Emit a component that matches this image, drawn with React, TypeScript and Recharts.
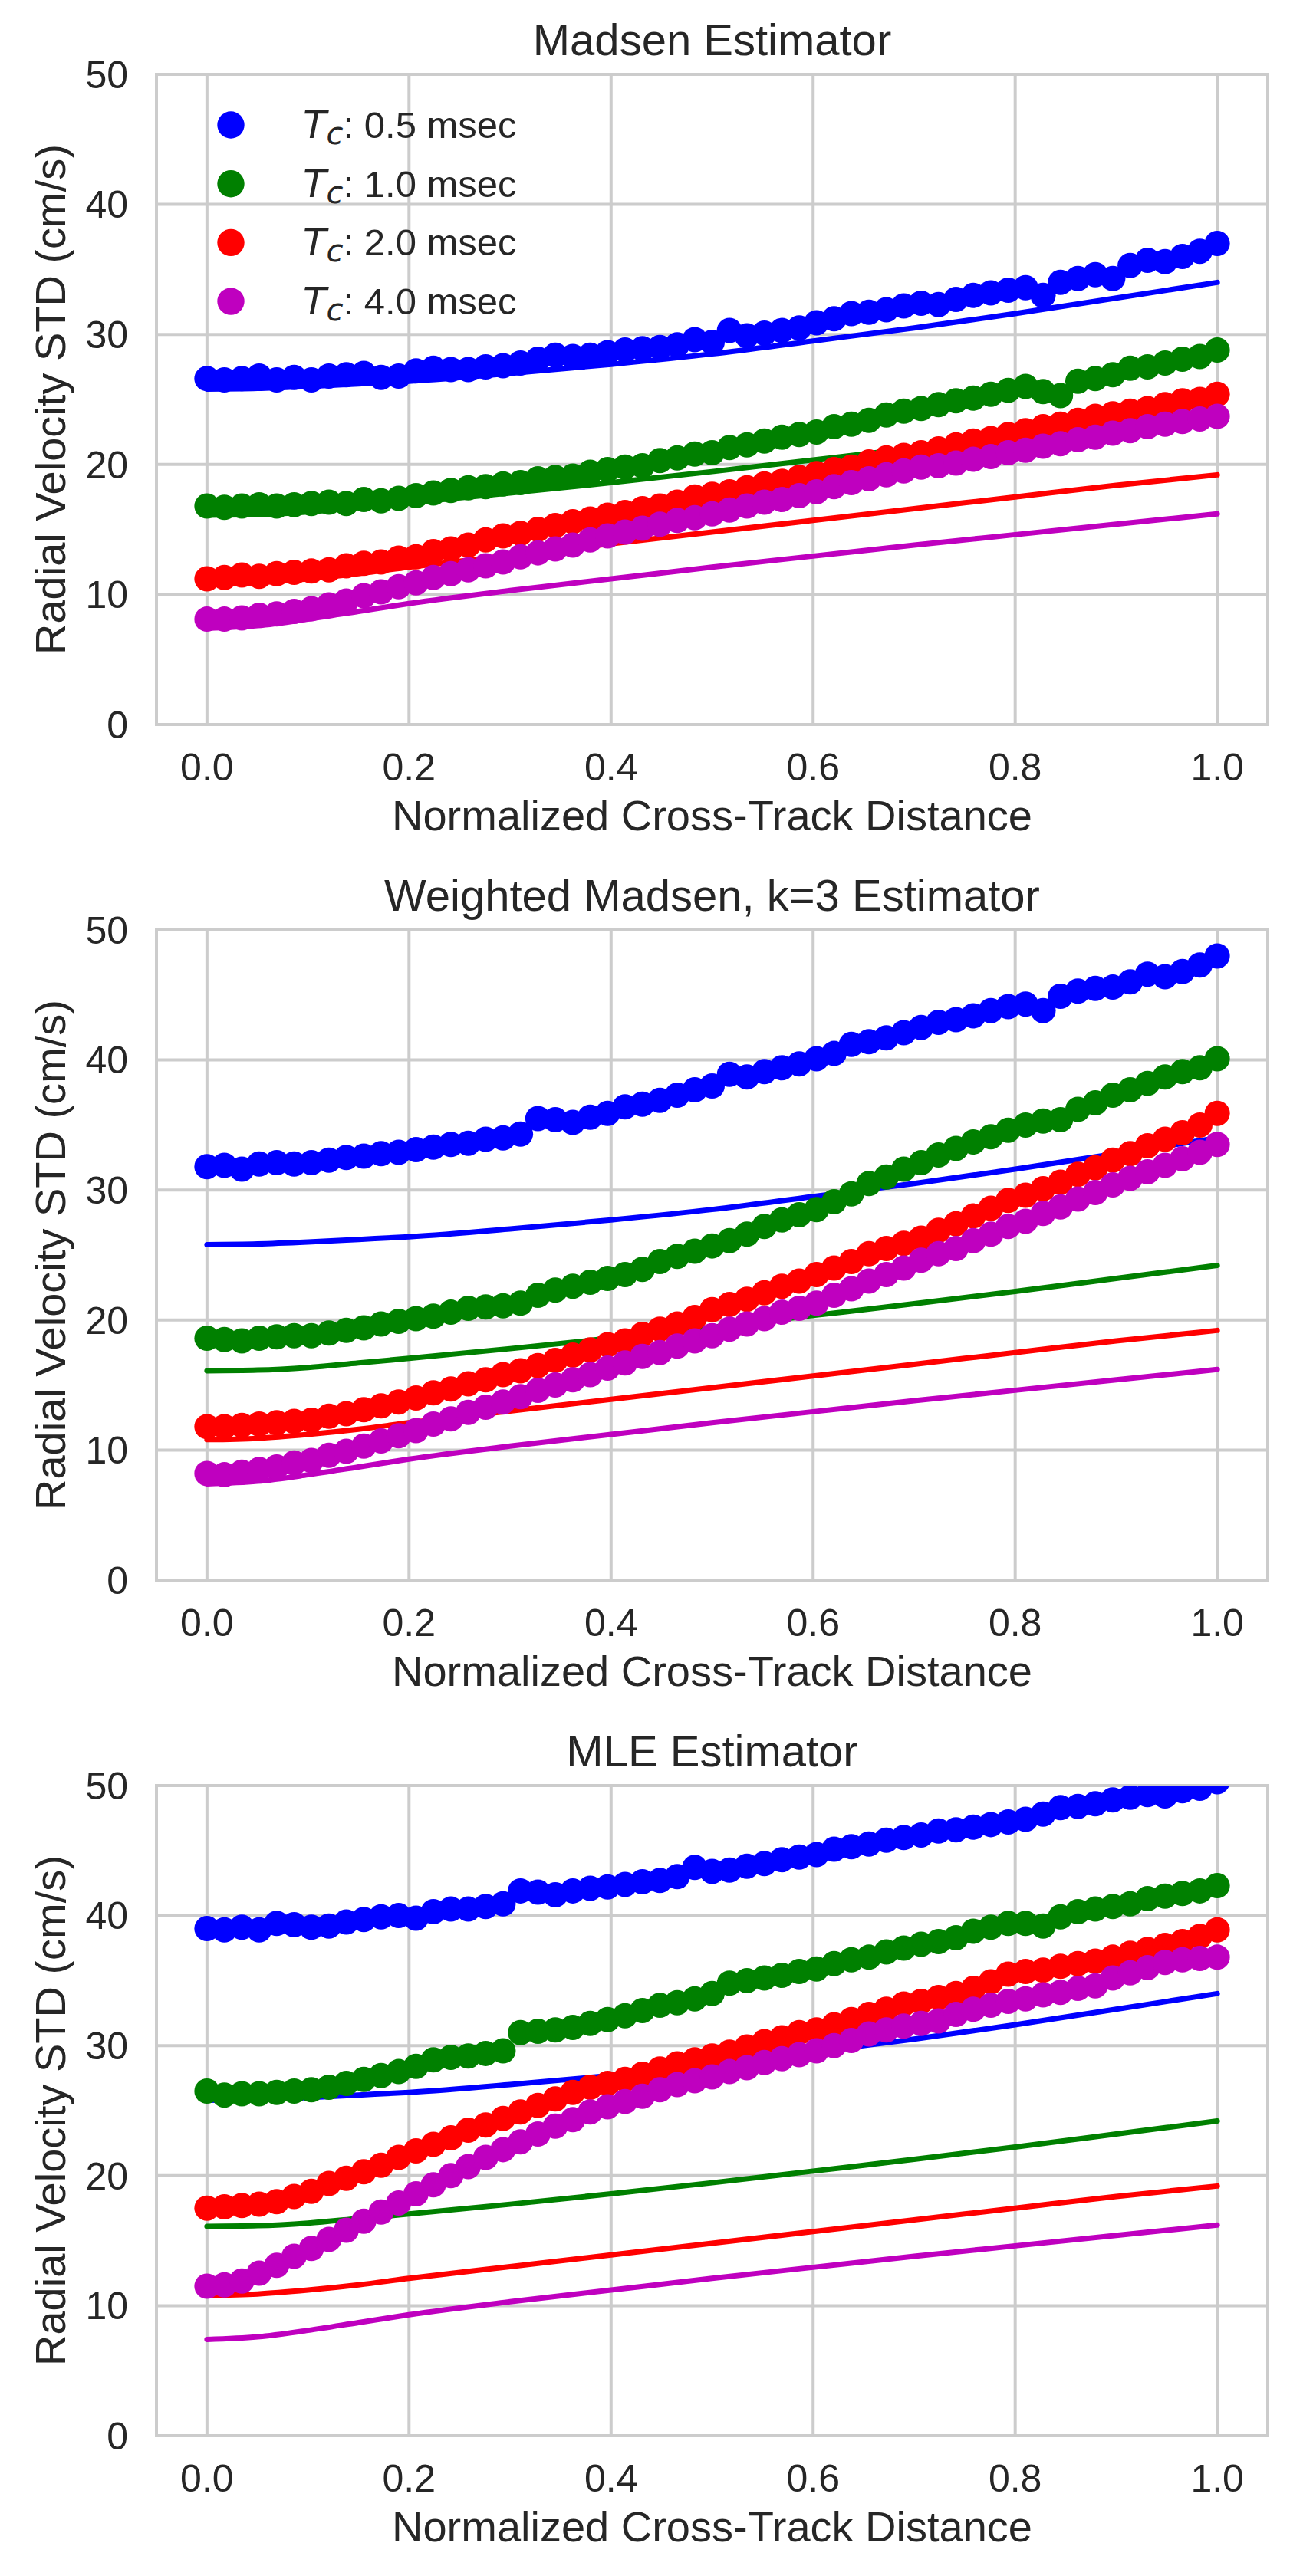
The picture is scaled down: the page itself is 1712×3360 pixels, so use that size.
import {
  ComposedChart,
  Line,
  Scatter,
  XAxis,
  YAxis,
  CartesianGrid,
  ReferenceArea,
  Legend,
} from "recharts";

// x positions of the simulated points (normalized cross-track distance)
const pointX = [
  0, 0.0172, 0.0345, 0.0517, 0.069, 0.0862, 0.1034, 0.1207, 0.1379, 0.1552,
  0.1724, 0.1897, 0.2069, 0.2241, 0.2414, 0.2586, 0.2759, 0.2931, 0.3103, 0.3276,
  0.3448, 0.3621, 0.3793, 0.3966, 0.4138, 0.431, 0.4483, 0.4655, 0.4828, 0.5,
  0.5172, 0.5345, 0.5517, 0.569, 0.5862, 0.6034, 0.6207, 0.6379, 0.6552, 0.6724,
  0.6897, 0.7069, 0.7241, 0.7414, 0.7586, 0.7759, 0.7931, 0.8103, 0.8276, 0.8448,
  0.8621, 0.8793, 0.8966, 0.9138, 0.931, 0.9483, 0.9655, 0.9828, 1.0,
];

// Madsen estimator
const madsenBlue = [
  26.6, 26.5, 26.6, 26.8, 26.5, 26.7, 26.5, 26.8, 26.9, 27.0,
  26.7, 26.8, 27.2, 27.4, 27.3, 27.3, 27.5, 27.6, 27.8, 28.1,
  28.4, 28.3, 28.4, 28.6, 28.8, 28.9, 29.0, 29.2, 29.6, 29.4,
  30.3, 29.9, 30.1, 30.3, 30.5, 30.9, 31.2, 31.6, 31.7, 31.9,
  32.2, 32.4, 32.3, 32.7, 33.0, 33.2, 33.4, 33.6, 33.0, 34.0,
  34.3, 34.6, 34.3, 35.3, 35.7, 35.6, 36.0, 36.4, 37.0,
];
const madsenGreen = [
  16.8, 16.7, 16.8, 16.9, 16.8, 16.9, 17.0, 17.1, 17.0, 17.3,
  17.2, 17.4, 17.6, 17.8, 18.0, 18.2, 18.3, 18.5, 18.6, 18.9,
  19.0, 19.1, 19.4, 19.6, 19.8, 19.9, 20.3, 20.5, 20.8, 20.9,
  21.3, 21.5, 21.8, 22.1, 22.3, 22.5, 22.9, 23.1, 23.4, 23.8,
  24.1, 24.3, 24.6, 24.9, 25.1, 25.4, 25.7, 26.0, 25.6, 25.3,
  26.4, 26.6, 26.9, 27.4, 27.5, 27.8, 28.1, 28.3, 28.8,
];
const madsenRed = [
  11.2, 11.3, 11.5, 11.4, 11.6, 11.7, 11.8, 11.9, 12.2, 12.4,
  12.5, 12.8, 12.9, 13.3, 13.5, 13.8, 14.2, 14.5, 14.7, 15.0,
  15.3, 15.6, 15.8, 16.1, 16.3, 16.6, 16.8, 17.1, 17.5, 17.7,
  17.9, 18.2, 18.5, 18.7, 19.0, 19.3, 19.6, 19.8, 20.2, 20.5,
  20.7, 20.9, 21.2, 21.5, 21.8, 22.0, 22.3, 22.6, 22.9, 23.1,
  23.4, 23.7, 23.9, 24.1, 24.3, 24.6, 24.9, 25.0, 25.4,
];
const madsenMagenta = [
  8.1, 8.1, 8.2, 8.4, 8.5, 8.7, 8.9, 9.2, 9.5, 9.9,
  10.2, 10.6, 10.9, 11.3, 11.6, 11.9, 12.2, 12.5, 12.9, 13.2,
  13.5, 13.8, 14.2, 14.5, 14.8, 15.1, 15.4, 15.7, 15.9, 16.2,
  16.5, 16.8, 17.1, 17.3, 17.6, 17.9, 18.3, 18.6, 18.9, 19.2,
  19.5, 19.8, 19.9, 20.1, 20.4, 20.6, 20.9, 21.1, 21.4, 21.6,
  21.9, 22.1, 22.4, 22.6, 22.9, 23.1, 23.3, 23.5, 23.7,
];

// Weighted Madsen, k=3
const weightedBlue = [
  31.8, 31.9, 31.6, 32.0, 32.1, 32.0, 32.1, 32.3, 32.5, 32.6,
  32.8, 32.9, 33.1, 33.3, 33.5, 33.6, 33.9, 34.0, 34.3, 35.5,
  35.4, 35.2, 35.6, 35.9, 36.4, 36.6, 36.9, 37.3, 37.7, 38.0,
  38.9, 38.7, 39.1, 39.4, 39.7, 40.1, 40.5, 41.2, 41.4, 41.7,
  42.1, 42.5, 42.9, 43.1, 43.4, 43.8, 44.1, 44.3, 43.8, 44.9,
  45.3, 45.5, 45.6, 46.0, 46.6, 46.4, 46.8, 47.3, 48.0,
];
const weightedGreen = [
  18.6, 18.5, 18.4, 18.6, 18.7, 18.8, 18.8, 19.0, 19.2, 19.4,
  19.7, 19.9, 20.1, 20.3, 20.6, 20.9, 21.0, 21.1, 21.3, 21.9,
  22.3, 22.6, 22.9, 23.2, 23.5, 23.9, 24.5, 24.9, 25.3, 25.7,
  26.1, 26.6, 27.2, 27.7, 28.1, 28.5, 29.1, 29.7, 30.5, 31.0,
  31.6, 32.1, 32.7, 33.2, 33.7, 34.1, 34.6, 35.0, 35.3, 35.4,
  36.2, 36.7, 37.3, 37.7, 38.2, 38.7, 39.1, 39.4, 40.1,
];
const weightedRed = [
  11.8, 11.8, 11.9, 12.0, 12.1, 12.2, 12.3, 12.6, 12.8, 13.1,
  13.4, 13.7, 14.0, 14.4, 14.7, 15.1, 15.4, 15.8, 16.1, 16.5,
  16.9, 17.3, 17.7, 18.1, 18.4, 18.9, 19.3, 19.7, 20.2, 20.8,
  21.2, 21.6, 22.1, 22.6, 23.0, 23.5, 24.0, 24.5, 25.1, 25.5,
  25.9, 26.3, 26.9, 27.4, 28.0, 28.6, 29.2, 29.6, 30.1, 30.6,
  31.2, 31.7, 32.3, 32.8, 33.4, 33.9, 34.4, 35.0, 35.9,
];
const weightedMagenta = [
  8.2, 8.1, 8.3, 8.5, 8.7, 9.0, 9.2, 9.6, 9.9, 10.3,
  10.7, 11.1, 11.5, 12.0, 12.4, 12.9, 13.3, 13.7, 14.1, 14.6,
  15.0, 15.4, 15.8, 16.3, 16.7, 17.2, 17.5, 18.0, 18.4, 18.8,
  19.3, 19.7, 20.1, 20.6, 20.9, 21.3, 21.9, 22.4, 23.0, 23.5,
  24.0, 24.6, 25.1, 25.5, 26.1, 26.6, 27.2, 27.6, 28.2, 28.7,
  29.3, 29.8, 30.4, 30.9, 31.4, 31.9, 32.4, 32.9, 33.5,
];

// MLE estimator
const mleBlue = [
  39.0, 38.9, 39.1, 38.9, 39.4, 39.3, 39.1, 39.2, 39.5, 39.7,
  39.9, 40.0, 39.8, 40.3, 40.5, 40.5, 40.7, 40.9, 41.9, 41.8,
  41.6, 41.9, 42.1, 42.2, 42.4, 42.6, 42.7, 43.0, 43.7, 43.4,
  43.5, 43.8, 44.0, 44.3, 44.5, 44.7, 45.1, 45.3, 45.5, 45.8,
  46.0, 46.2, 46.5, 46.6, 46.8, 47.0, 47.2, 47.4, 47.8, 48.3,
  48.4, 48.6, 48.9, 49.1, 49.3, 49.2, 49.6, 49.8, 50.3,
];
const mleGreen = [
  26.5, 26.2, 26.3, 26.3, 26.4, 26.5, 26.6, 26.8, 27.1, 27.4,
  27.7, 28.0, 28.4, 28.9, 29.1, 29.2, 29.4, 29.6, 31.0, 31.1,
  31.2, 31.4, 31.7, 32.0, 32.3, 32.7, 33.1, 33.3, 33.6, 34.0,
  34.8, 35.0, 35.2, 35.4, 35.7, 35.9, 36.3, 36.6, 36.8, 37.2,
  37.5, 37.8, 38.0, 38.3, 38.8, 39.1, 39.4, 39.4, 39.2, 39.9,
  40.3, 40.5, 40.7, 40.9, 41.3, 41.5, 41.7, 41.9, 42.3,
];
const mleRed = [
  17.5, 17.6, 17.7, 17.8, 18.0, 18.4, 18.8, 19.4, 19.8, 20.3,
  20.8, 21.4, 21.9, 22.4, 22.9, 23.5, 23.9, 24.4, 24.9, 25.4,
  25.9, 26.4, 26.8, 27.1, 27.4, 27.8, 28.2, 28.6, 28.9, 29.2,
  29.5, 29.9, 30.3, 30.6, 31.0, 31.2, 31.6, 32.0, 32.4, 32.8,
  33.2, 33.4, 33.7, 34.0, 34.4, 34.9, 35.5, 35.7, 35.8, 36.1,
  36.3, 36.5, 36.8, 37.1, 37.4, 37.7, 38.0, 38.4, 38.9,
];
const mleMagenta = [
  11.5, 11.6, 11.9, 12.5, 13.1, 13.8, 14.4, 15.1, 15.8, 16.5,
  17.2, 17.9, 18.6, 19.3, 20.0, 20.7, 21.4, 22.0, 22.6, 23.2,
  23.8, 24.3, 24.9, 25.3, 25.7, 26.1, 26.6, 27.0, 27.3, 27.6,
  28.0, 28.3, 28.7, 29.0, 29.3, 29.6, 30.0, 30.4, 30.9, 31.2,
  31.5, 31.7, 31.9, 32.4, 32.8, 33.1, 33.4, 33.6, 33.9, 34.1,
  34.4, 34.6, 35.2, 35.6, 36.0, 36.4, 36.6, 36.7, 36.8,
];

// theoretical curves (same in every panel)
const curveX = [0, 0.05, 0.1, 0.15, 0.2, 0.3, 0.4, 0.5, 0.6, 0.7, 0.8, 0.9, 1.0];
const curveBlue = [25.8, 25.85, 26.0, 26.2, 26.4, 27.0, 27.7, 28.5, 29.5, 30.5, 31.6, 32.8, 34.0];
const curveGreen = [16.1, 16.15, 16.35, 16.7, 17.05, 17.8, 18.6, 19.45, 20.35, 21.25, 22.2, 23.2, 24.2];
const curveRed = [10.8, 10.9, 11.2, 11.6, 12.1, 13.0, 13.9, 14.8, 15.7, 16.6, 17.5, 18.4, 19.2];
const curveMagenta = [7.4, 7.6, 8.1, 8.7, 9.3, 10.3, 11.2, 12.1, 12.95, 13.8, 14.6, 15.4, 16.2];

const tcLabels = ["0.5", "1.0", "2.0", "4.0"];
const colors = ["#0000ff", "#008000", "#ff0000", "#bf00bf"];
const xTicks = [0, 0.2, 0.4, 0.6, 0.8, 1.0];
const yTicks = [0, 10, 20, 30, 40, 50];

const panels = [
  { title: "Madsen Estimator", points: [madsenBlue, madsenGreen, madsenRed, madsenMagenta] },
  { title: "Weighted Madsen, k=3 Estimator", points: [weightedBlue, weightedGreen, weightedRed, weightedMagenta] },
  { title: "MLE Estimator", points: [mleBlue, mleGreen, mleRed, mleMagenta] },
];
const curves = [curveBlue, curveGreen, curveRed, curveMagenta];

const TEXT = "#262626";
const GRID = "#cccccc";

const toPoints = (xs: number[], ys: number[]) => xs.map((x, i) => ({ x, y: ys[i] }));

const dot = (color: string) => (props: any) =>
  props.cx == null ? null : <circle cx={props.cx} cy={props.cy} r={16.5} fill={color} />;

const renderLegend = () => (
  <svg width={440} height={320} style={{ display: "block" }}>
    {tcLabels.map((tc, i) => (
      <g key={tc}>
        <circle cx={31} cy={33 + i * 76.7} r={17.7} fill={colors[i]} />
        <text x={125} y={50 + i * 76.7} fontSize={49} fill={TEXT}>
          <tspan fontStyle="italic" fontSize={50} fontFamily="DejaVu Sans">T</tspan>
          <tspan fontStyle="italic" fontSize={40} dy={8} fontFamily="DejaVu Sans">c</tspan>
          <tspan dy={-8}>: {tc} msec</tspan>
        </text>
      </g>
    ))}
  </svg>
);

function Panel({ title, points, legend }: { title: string; points: number[][]; legend: boolean }) {
  return (
    <div style={{ position: "relative", width: 1712, height: 1116 }}>
      <div
        style={{
          position: "absolute",
          left: 204,
          width: 1449,
          top: 23,
          textAlign: "center",
          fontSize: 58,
          lineHeight: "58px",
          color: TEXT,
          zIndex: 1,
        }}
      >
        {title}
      </div>
      <ComposedChart width={1712} height={1116} margin={{ top: 97, right: 59, bottom: 0, left: 0 }}>
        <CartesianGrid stroke={GRID} strokeWidth={4} />
        <XAxis
          type="number"
          dataKey="x"
          domain={[-0.05, 1.05]}
          ticks={xTicks}
          interval={0}
          allowDataOverflow
          tickFormatter={(v: number) => v.toFixed(1)}
          height={171}
          axisLine={false}
          tickLine={false}
          tickSize={0}
          tickMargin={37}
          tick={{ fontSize: 50, fill: TEXT }}
          label={{
            value: "Normalized Cross-Track Distance",
            position: "insideBottom",
            offset: 33,
            style: { fontSize: 56, fill: TEXT },
          }}
        />
        <YAxis
          type="number"
          dataKey="y"
          domain={[0, 50]}
          ticks={yTicks}
          interval={0}
          allowDataOverflow
          width={204}
          axisLine={false}
          tickLine={false}
          tickSize={0}
          tickMargin={37}
          tick={{ fontSize: 50, fill: TEXT }}
          label={{
            value: "Radial Velocity STD (cm/s)",
            angle: -90,
            position: "center",
            dx: -37,
            style: { fontSize: 56, fill: TEXT, textAnchor: "middle" },
          }}
        />
        <ReferenceArea
          x1={-0.05}
          x2={1.05}
          y1={0}
          y2={50}
          fill="none"
          fillOpacity={0}
          stroke={GRID}
          strokeWidth={4}
          ifOverflow="visible"
        />
        {curves.map((c, i) => (
          <Line
            key={"line" + i}
            data={toPoints(curveX, c)}
            dataKey="y"
            type="monotone"
            stroke={colors[i]}
            strokeWidth={7}
            strokeLinecap="round"
            dot={false}
            activeDot={false}
            legendType="none"
            isAnimationActive={false}
          />
        ))}
        {points.map((p, i) => (
          <Scatter
            key={"pts" + i}
            name={tcLabels[i]}
            data={toPoints(pointX, p)}
            fill={colors[i]}
            shape={dot(colors[i])}
            isAnimationActive={false}
          />
        ))}
        {legend && (
          <Legend
            layout="vertical"
            align="center"
            verticalAlign="middle"
            content={renderLegend}
            wrapperStyle={{ left: 270, top: 130, width: 440, height: 320 }}
          />
        )}
      </ComposedChart>
    </div>
  );
}

export default function App() {
  return (
    <div
      style={{
        position: "absolute",
        left: 0,
        top: 0,
        width: 1712,
        height: 3360,
        background: "#ffffff",
        fontFamily: "'Liberation Sans', Arial, sans-serif",
      }}
    >
      {panels.map((p, i) => (
        <Panel key={p.title} title={p.title} points={p.points} legend={i === 0} />
      ))}
    </div>
  );
}
